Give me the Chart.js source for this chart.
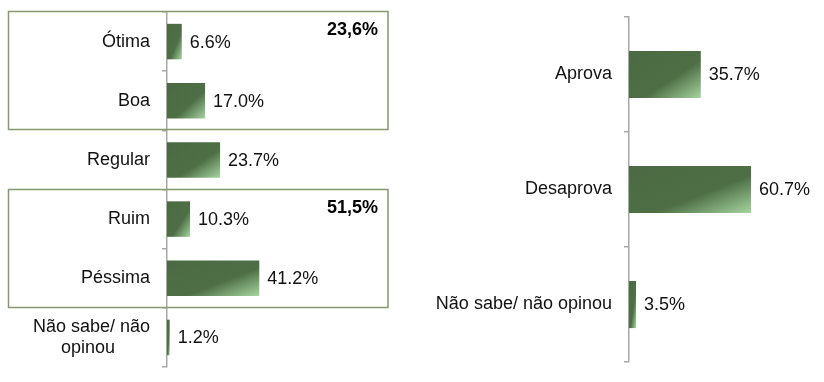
<!DOCTYPE html>
<html><head><meta charset="utf-8">
<script src="https://cdn.jsdelivr.net/npm/chart.js@4"></script>
<style>
html,body{margin:0;padding:0;background:#fff;}
#wrap{position:relative;width:824px;height:382px;overflow:hidden;}
canvas{position:absolute;top:0;}
</style></head><body>
<div id="wrap">
<canvas id="c1" width="412" height="382" style="left:0"></canvas>
<canvas id="c2" width="412" height="382" style="left:412px"></canvas>
</div>
<script>
// ---- data ----
const ratingLabels = ['Ótima', 'Boa', 'Regular', 'Ruim', 'Péssima', ['Não sabe/ não', 'opinou\u00a0\u00a0\u00a0\u00a0\u00a0\u00a0\u00a0']];
const ratingValues = [6.6, 17.0, 23.7, 10.3, 41.2, 1.2];
const groupStart = [0, 3];
const groupEnd = [1, 4];
const groupTotals = ['23,6%', '51,5%'];
const approvalLabels = ['Aprova', 'Desaprova', 'Não sabe/ não opinou'];
const approvalValues = [35.7, 60.7, 3.5];

const FONT = '"Liberation Sans", Arial, sans-serif';
const DARK = '#4b6a43';
const LIGHT = '#a6d5a0';
const AXIS = '#a8a8a8';
const BOX = '#869872';

function barGradient(bp) {
  return function (ctx) {
    const chart = ctx.chart;
    if (!chart.chartArea || !chart.scales.x || !chart.scales.y) return DARK;
    const xs = chart.scales.x, ys = chart.scales.y;
    const n = chart.data.labels.length;
    const v = ctx.raw;
    const x0 = xs.getPixelForValue(0), x1 = xs.getPixelForValue(v);
    const cat = (ys.bottom - ys.top) / n;
    const h = cat * bp;
    const y0 = ys.getPixelForValue(ctx.dataIndex) - h / 2;
    const w = Math.max(1, x1 - x0);
    const d = w * w + h * h;
    const ex = x0 + 2 * w * h * h / d;
    const ey = y0 + 2 * w * w * h / d;
    const g = chart.ctx.createLinearGradient(x0, y0, ex, ey);
    g.addColorStop(0, DARK);
    g.addColorStop(0.6, '#4e6f46');
    g.addColorStop(1, LIGHT);
    return g;
  };
}

const valueLabels = {
  id: 'valueLabels',
  afterDatasetsDraw(chart) {
    const ctx = chart.ctx;
    const meta = chart.getDatasetMeta(0);
    const data = chart.data.datasets[0].data;
    ctx.save();
    ctx.font = '18px ' + FONT;
    ctx.fillStyle = '#111';
    ctx.textBaseline = 'middle';
    ctx.textAlign = 'left';
    meta.data.forEach((el, i) => {
      ctx.fillText(data[i].toFixed(1) + '%', el.x + 8, el.y + 1);
    });
    ctx.restore();
  }
};

const groupBoxes = {
  id: 'groupBoxes',
  afterDraw(chart) {
    const ctx = chart.ctx;
    const ys = chart.scales.y;
    const n = chart.data.labels.length;
    const cat = (ys.bottom - ys.top) / n;
    ctx.save();
    ctx.strokeStyle = BOX;
    ctx.lineWidth = 1.5;
    groupStart.forEach((s, k) => {
      const top = Math.round(ys.getPixelForValue(s) - cat / 2) - 0.5;
      const bot = Math.round(ys.getPixelForValue(groupEnd[k]) + cat / 2) - 0.5;
      const left = 8.5, right = chart.chartArea.right - 3;
      ctx.strokeRect(left, top, right - left, bot - top);
      ctx.font = 'bold 18px ' + FONT;
      ctx.fillStyle = '#000';
      ctx.textAlign = 'right';
      ctx.textBaseline = 'middle';
      ctx.fillText(groupTotals[k], right - 10, top + 19);
    });
    ctx.restore();
  }
};

function makeChart(id, labels, values, opts) {
  return new Chart(document.getElementById(id), {
    type: 'bar',
    data: {
      labels: labels,
      datasets: [{
        data: values,
        backgroundColor: barGradient(opts.bp),
        borderWidth: 0,
        barPercentage: opts.bp,
        categoryPercentage: 1
      }]
    },
    options: {
      indexAxis: 'y',
      responsive: false,
      animation: false,
      devicePixelRatio: 1,
      layout: { padding: opts.padding },
      plugins: { legend: { display: false }, tooltip: { enabled: false } },
      scales: {
        x: { display: false, min: 0, max: opts.xmax },
        y: {
          grid: { offset: true, drawOnChartArea: false, tickLength: 5, color: AXIS, lineWidth: 1.5 },
          border: { color: AXIS, width: 1.5 },
          ticks: { color: '#111', font: { family: FONT, size: 18 }, padding: 12 },
          afterFit(s) { s.width = opts.yw; s.paddingTop = 0; s.paddingBottom = 0; }
        }
      }
    },
    plugins: opts.plugins
  });
}

makeChart('c1', ratingLabels, ratingValues, {
  bp: 0.6, xmax: 100, yw: 167,
  padding: { top: 12, bottom: 15, right: 21, left: 0 },
  plugins: [valueLabels, groupBoxes]
});
makeChart('c2', approvalLabels, approvalValues, {
  bp: 0.41, xmax: 90, yw: 217,
  padding: { top: 17, bottom: 20, right: 14, left: 0 },
  plugins: [valueLabels]
});
</script>
</body></html>
